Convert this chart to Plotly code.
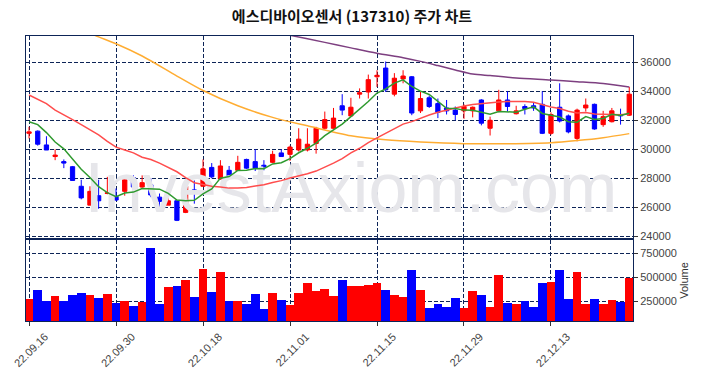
import plotly.graph_objects as go
import pandas as pd

# ---------------- data ----------------
dates = [
    "22.09.16", "22.09.19", "22.09.20", "22.09.21", "22.09.22", "22.09.23", "22.09.26", "22.09.27", "22.09.28", "22.09.29",
    "22.09.30", "22.10.04", "22.10.05", "22.10.06", "22.10.07", "22.10.11", "22.10.12", "22.10.13", "22.10.14", "22.10.17",
    "22.10.18", "22.10.19", "22.10.20", "22.10.21", "22.10.24", "22.10.25", "22.10.26", "22.10.27", "22.10.28", "22.10.31",
    "22.11.01", "22.11.02", "22.11.03", "22.11.04", "22.11.07", "22.11.08", "22.11.09", "22.11.10", "22.11.11", "22.11.14",
    "22.11.15", "22.11.16", "22.11.17", "22.11.18", "22.11.21", "22.11.22", "22.11.23", "22.11.24", "22.11.25", "22.11.28",
    "22.11.29", "22.11.30", "22.12.01", "22.12.02", "22.12.05", "22.12.06", "22.12.07", "22.12.08", "22.12.09", "22.12.12",
    "22.12.13", "22.12.14", "22.12.15", "22.12.16", "22.12.19", "22.12.20", "22.12.21", "22.12.22", "22.12.23", "22.12.26",
]

opens = [
    31100, 31250, 30300, 29500, 29150, 28800, 27450, 26150, 26800, 26950,
    26750, 27100, 28050, 27400, 27550, 26700, 26150, 26450, 25650, 27200,
    27450, 28750, 27950, 28550, 28550, 29300, 29150, 28900, 29100, 29750,
    29650, 29950, 29950, 30400, 31450, 31450, 33000, 32300, 33800, 33950,
    35000, 35600, 33800, 34850, 35000, 32650, 33550, 33150, 32850, 32700,
    32650, 32650, 33400, 31450, 32650, 33400, 32450, 32950, 33000, 33100,
    31100, 32900, 32300, 30750, 32850, 33100, 31700, 31900, 32400, 32350,
]
highs = [
    31550, 31300, 30900, 30000, 29300, 28850, 27900, 27450, 27900, 28100,
    27300, 28100, 28200, 28200, 28000, 26950, 26850, 26450, 27550, 27850,
    29300, 29050, 29250, 28850, 29550, 29350, 30000, 29250, 29900, 30000,
    30250, 31450, 31450, 31550, 32600, 32850, 33800, 33550, 34200, 35150,
    35450, 36050, 35250, 35450, 35050, 33950, 33700, 33500, 33400, 32950,
    33100, 32950, 33450, 32250, 34100, 34000, 33000, 33100, 33250, 34000,
    32550, 34550, 32400, 32800, 33500, 33150, 32650, 32850, 32800, 34300,
]
lows = [
    30750, 30250, 29950, 29250, 28700, 27850, 26550, 26150, 25900, 26900,
    26450, 26800, 27300, 27350, 26700, 26000, 26150, 25050, 25600, 26250,
    27450, 28000, 27900, 27950, 28550, 28650, 28500, 28550, 29050, 29500,
    29200, 29850, 29850, 29700, 31350, 31400, 32350, 32300, 33500, 33500,
    34300, 33950, 33650, 34550, 32350, 32500, 32850, 32150, 32400, 32000,
    32100, 32200, 31650, 30950, 32550, 32600, 32400, 32400, 32650, 31050,
    31000, 31850, 31100, 30550, 32600, 31350, 31550, 31850, 31700, 32300,
]
closes = [
    31200, 30350, 29950, 29600, 29050, 27850, 26650, 27100, 26450, 27000,
    26500, 27900, 27400, 27700, 26850, 26400, 26450, 25100, 27450, 27000,
    28650, 28100, 28850, 28000, 29100, 28700, 28700, 28800, 29650, 29500,
    30150, 30700, 30350, 31450, 32050, 32150, 32700, 32900, 33900, 34800,
    35100, 34100, 34900, 35050, 32500, 33500, 32950, 32550, 32650, 32400,
    32950, 32900, 31800, 32000, 33400, 32950, 32650, 32800, 32850, 31100,
    32400, 31950, 31200, 32700, 33050, 31400, 32250, 32650, 32300, 33800,
]
volumes = [
    270000, 363000, 250000, 301000, 250000, 311000, 332000, 311000, 281000, 322000,
    229000, 250000, 199000, 240000, 804000, 219000, 394000, 404000, 466000, 291000,
    589000, 342000, 558000, 250000, 250000, 219000, 322000, 168000, 332000, 260000,
    209000, 332000, 435000, 353000, 373000, 301000, 466000, 404000, 410000, 414000,
    435000, 363000, 312000, 291000, 578000, 363000, 178000, 219000, 188000, 281000,
    178000, 353000, 312000, 188000, 527000, 229000, 219000, 250000, 188000, 435000,
    445000, 578000, 270000, 558000, 219000, 270000, 219000, 260000, 240000, 496000,
]

ma5_head = [31900, 31700, 31150, 30500]
ma20_head = [33740, 33450, 33150, 32700, 32400, 32050, 31700, 31350, 31000, 30550,
             30150, 29950, 29750, 29450, 29300, 29050, 28750, 28450, 28050]
ma60_idx = [0, 4, 8, 10, 13, 17, 20, 24, 28, 32, 37, 41, 45, 50, 55, 60, 63, 66, 69]
ma60_val = [39300, 38700, 37750, 37280, 36430, 35050, 34050, 33000, 32200, 31620,
            30930, 30650, 30500, 30390, 30380, 30450, 30600, 30800, 31080]
ma120_idx = [25, 30, 34, 37, 40, 43, 45, 47, 49, 51, 53, 56, 60, 63, 66, 69]
ma120_val = [38500, 37860, 37370, 36990, 36620, 36310, 36060, 35770, 35470, 35190,
             35080, 34920, 34780, 34660, 34530, 34300]

tick_labels = ["22.09.16", "22.09.30", "22.10.18", "22.11.01", "22.11.15", "22.11.29", "22.12.13"]
price_ticks = [24000, 26000, 28000, 30000, 32000, 34000, 36000]
volume_ticks = [250000, 500000, 750000]

title_text = "에스디바이오센서 (137310) 주가 차트"
watermark = "InvestAxiom.com"

# ---------------- derived ----------------
close_s = pd.Series(closes)
ma5 = close_s.rolling(5).mean().tolist()
ma5[:len(ma5_head)] = ma5_head
ma20 = close_s.rolling(20).mean().tolist()
ma20[:len(ma20_head)] = ma20_head

UP = "#ff0000"
DOWN = "#0000ff"
vol_colors = [UP if c > o else DOWN for o, c in zip(opens, closes)]

GRID = "#0d2457"
FRAME = "#0d2457"
TICKFONT = dict(family="Liberation Sans, Arial, sans-serif", size=11, color="#444444")

fig = go.Figure()

# watermark (drawn first so it sits behind everything)
fig.add_trace(go.Scatter(
    x=[dates[37]], y=[26850], mode="text", text=[watermark],
    textposition="middle center",
    textfont=dict(family="Liberation Sans, Arial, sans-serif", size=70, color="#e6e6ea"),
    hoverinfo="skip", showlegend=False, xaxis="x", yaxis="y"))

fig.add_trace(go.Scatter(
    x=[dates[i] for i in ma120_idx], y=ma120_val, mode="lines",
    line=dict(color="#7d3f80", width=1.5, shape="spline", smoothing=0.8),
    showlegend=False, xaxis="x", yaxis="y"))
fig.add_trace(go.Scatter(
    x=[dates[i] for i in ma60_idx], y=ma60_val, mode="lines",
    line=dict(color="#ffad33", width=1.5, shape="spline", smoothing=0.8),
    showlegend=False, xaxis="x", yaxis="y"))
fig.add_trace(go.Scatter(
    x=dates, y=ma20, mode="lines",
    line=dict(color="#ff4d4d", width=1.5),
    showlegend=False, xaxis="x", yaxis="y"))
fig.add_trace(go.Scatter(
    x=dates, y=ma5, mode="lines",
    line=dict(color="#2f9a2f", width=1.5),
    showlegend=False, xaxis="x", yaxis="y"))

fig.add_trace(go.Candlestick(
    x=dates, open=opens, high=highs, low=lows, close=closes,
    increasing=dict(line=dict(color=UP, width=1), fillcolor=UP),
    decreasing=dict(line=dict(color=DOWN, width=1), fillcolor=DOWN),
    whiskerwidth=0, showlegend=False, xaxis="x", yaxis="y"))

fig.add_trace(go.Bar(
    x=dates, y=volumes, marker=dict(color=vol_colors, line=dict(width=0)),
    showlegend=False, xaxis="x2", yaxis="y2"))

xrange = [-0.35, 69.43]
common_x = dict(type="category", categoryorder="array", categoryarray=dates, range=xrange,
                tickmode="array", tickvals=[d for d in tick_labels], automargin=False,
                showgrid=True, gridcolor=GRID, gridwidth=1, griddash="4px,2px",
                showline=True, linecolor=FRAME, linewidth=1, mirror=True, zeroline=False)
common_y = dict(side="right", tickmode="array", tickfont=TICKFONT, automargin=False,
                ticks="outside", ticklen=4, tickcolor="#333333",
                showgrid=True, gridcolor=GRID, gridwidth=1, griddash="4px,2px",
                showline=True, linecolor=FRAME, linewidth=1, mirror=True, zeroline=False)

fig.update_layout(
    width=704, height=378,
    margin=dict(l=26, r=71, t=36, b=57, autoexpand=False),
    paper_bgcolor="white", plot_bgcolor="white",
    bargap=0, showlegend=False,
    title=dict(text="<b>" + title_text + "</b>", x=0.5, xref="container", xanchor="center",
               y=1 - 17 / 378, yref="container", yanchor="middle",
               font=dict(family="Noto Sans CJK KR, sans-serif", size=15, color="#111111")),
    xaxis=dict(common_x, anchor="y", showticklabels=False, ticks="", matches="x2",
               rangeslider=dict(visible=False)),
    xaxis2=dict(common_x, anchor="y2", ticks="outside", ticklen=4, tickcolor="#333333",
                ticktext=tick_labels, tickangle=-45, tickfont=TICKFONT, ticklabelshift=16),
    yaxis=dict(common_y, domain=[0.2895, 1], range=[23850, 37810],
               tickvals=price_ticks, ticktext=[str(v) for v in price_ticks]),
    yaxis2=dict(common_y, domain=[0, 0.2842], range=[44660, 886550],
                tickvals=volume_ticks, ticktext=[str(v) for v in volume_ticks],
                title=dict(text="Volume", standoff=4,
                           font=dict(family="Liberation Sans, Arial, sans-serif", size=11, color="#333333"))),
)

fig.write_html("out.html", config={"displayModeBar": False},
               post_script="document.body.style.margin='0';document.body.style.overflow='hidden';")
